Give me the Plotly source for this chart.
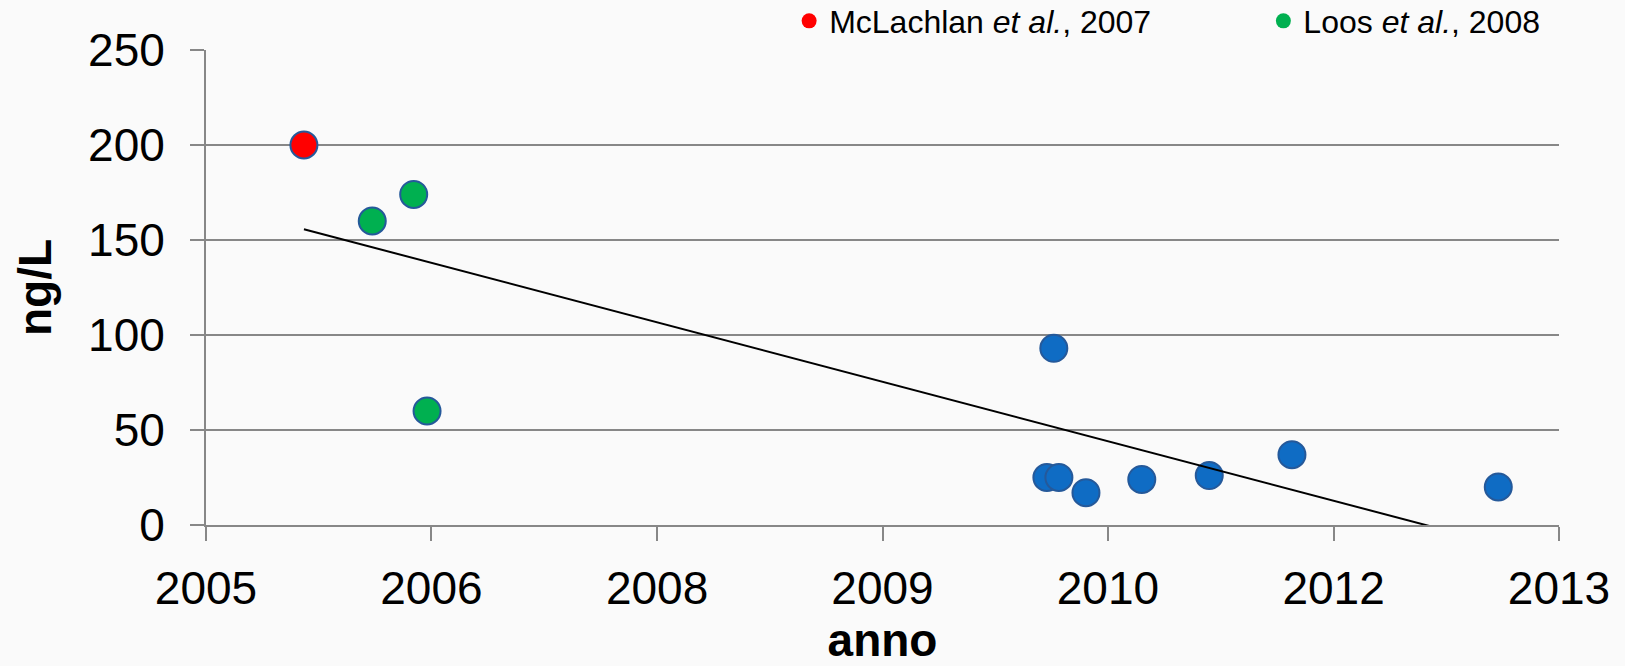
import numpy as np
import plotly.graph_objects as go

# ---- data ----
tick_vals = [2005.5, 2006.833, 2008.167, 2009.5, 2010.833, 2012.167, 2013.5]
tick_text = ["2005", "2006", "2008", "2009", "2010", "2012", "2013"]

mclachlan_x = [2006.079]
mclachlan_y = [200]

loos_x = [2006.483, 2006.728, 2006.807]
loos_y = [160, 174, 60]

other_x = [2010.472, 2010.513, 2010.543, 2010.703, 2011.033, 2011.432, 2011.921, 2013.141]
other_y = [25, 93, 25, 17, 24, 26, 37, 20]

legend_names = ["McLachlan <i>et al.</i>, 2007", "Loos <i>et al.</i>, 2008"]

# ---- linear trend over all points ----
all_x = np.array(mclachlan_x + loos_x + other_x)
all_y = np.array(mclachlan_y + loos_y + other_y)
slope, intercept = np.polyfit(all_x, all_y, 1)
trend_x = np.array([all_x.min(), all_x.max()])
trend_y = slope * trend_x + intercept

FONT = "Liberation Sans, Arial, sans-serif"
GRID = "#878787"
OUTLINE = dict(color="#25599a", width=2)

fig = go.Figure()
fig.add_trace(go.Scatter(x=other_x, y=other_y, mode="markers", showlegend=False,
                         marker=dict(size=27, color="#0f6cc4", line=OUTLINE)))
fig.add_trace(go.Scatter(x=loos_x, y=loos_y, mode="markers", showlegend=False,
                         marker=dict(size=27, color="#00b050", line=OUTLINE)))
fig.add_trace(go.Scatter(x=mclachlan_x, y=mclachlan_y, mode="markers", showlegend=False,
                         marker=dict(size=27, color="#ff0000", line=OUTLINE)))
fig.add_trace(go.Scatter(x=trend_x, y=trend_y, mode="lines", showlegend=False,
                         line=dict(color="black", width=2)))
# legend entries
fig.add_trace(go.Scatter(x=[None], y=[None], mode="markers", name=legend_names[0],
                         legend="legend", marker=dict(size=15, color="#ff0000")))
fig.add_trace(go.Scatter(x=[None], y=[None], mode="markers", name=legend_names[1],
                         legend="legend2", marker=dict(size=15, color="#00b050")))

legend_style = dict(orientation="h", xanchor="left", y=1.061, yanchor="middle",
                    font=dict(size=32), bgcolor="rgba(0,0,0,0)", itemsizing="trace")

fig.update_layout(
    width=1625, height=666,
    margin=dict(l=206, r=66, t=50, b=141, autoexpand=False),
    paper_bgcolor="#fafafa", plot_bgcolor="#fafafa",
    font=dict(family=FONT, color="black", size=46),
    legend=dict(x=0.431, **legend_style),
    legend2=dict(x=0.7815, **legend_style),
    xaxis=dict(range=[tick_vals[0], tick_vals[-1]], tickvals=tick_vals, ticktext=tick_text,
               showgrid=False, zeroline=False, showline=True, linecolor=GRID, linewidth=2,
               ticks="outside", ticklen=14, tickwidth=2, tickcolor=GRID,
               tickfont=dict(size=46), ticklabelstandoff=8,
               title=dict(text="<b>anno</b>", font=dict(size=46), standoff=4)),
    yaxis=dict(range=[0, 250], dtick=50, showgrid=True, gridcolor=GRID, gridwidth=2,
               zeroline=False, showline=True, linecolor=GRID, linewidth=2,
               ticks="outside", ticklen=14, tickwidth=2, tickcolor=GRID,
               tickfont=dict(size=46), ticklabelstandoff=16,
               title=dict(text="<b>ng/L</b>", font=dict(size=46), standoff=22)),
)

fig.write_html("out.html", config={"displayModeBar": False},
               post_script="document.body.style.margin='0';document.body.style.overflow='hidden';")
